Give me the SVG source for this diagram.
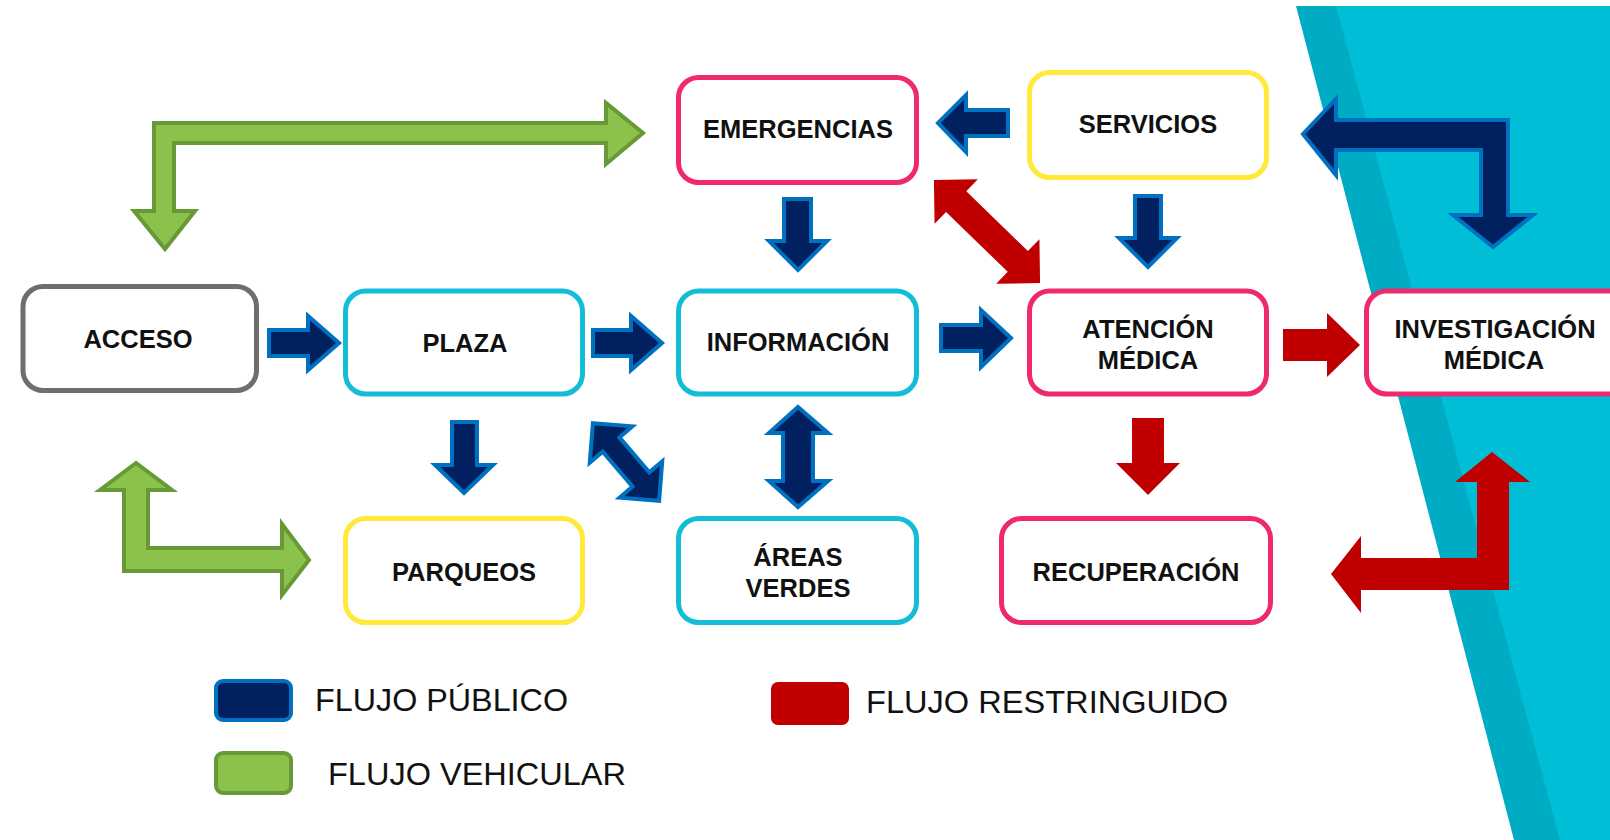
<svg xmlns="http://www.w3.org/2000/svg" width="1610" height="840" viewBox="0 0 1610 840">
<style>
.node rect{fill:#fff;stroke-width:5}
.pink{stroke:#EE2A6C}
.cyan{stroke:#14BDD7}
.yellow{stroke:#FFE93B}
.gray{stroke:#6E6E6E}
.lbl{font-family:"Liberation Sans",Arial,sans-serif;font-weight:bold;font-size:25.5px;fill:#111;text-anchor:middle}
.pub{fill:#002060;stroke:#0070C0;stroke-width:4;stroke-linejoin:miter}
.veh{fill:#8CC14B;stroke:#679A37;stroke-width:4;stroke-linejoin:miter}
.res{fill:#C00000}
.leg{font-family:"Liberation Sans",Arial,sans-serif;font-size:32px;fill:#111}
</style>
<rect width="1610" height="840" fill="#fff"/>
<g id="background">
<polygon points="1296,6 1610,6 1610,840 1514,840" fill="#00ABC4"/>
<polygon points="1336,6 1610,6 1610,840 1560,840" fill="#00BED6"/>
</g>
<g id="connectors">
<path class="veh" d="M643,133 L606,103 L606,123 L154,123 L154,211 L134,211 L165,249 L195,211 L174,211 L174,143 L606,143 L606,164 Z"/>
<path class="veh" d="M136,463 L100,490 L124,490 L124,571 L282,571 L282,595 L309,560 L282,524 L282,548 L148,548 L148,490 L172,490 Z"/>
<path class="pub" d="M269,330 L308,330 L308,316 L339,343 L308,370 L308,356 L269,356 Z"/>
<path class="pub" d="M593,330 L631,330 L631,316 L662,343 L631,370 L631,356 L593,356 Z"/>
<path class="pub" d="M941,325 L981,325 L981,310 L1011,338 L981,367 L981,351 L941,351 Z"/>
<path class="pub" d="M1008,110 L966,110 L966,95 L938,123 L966,152 L966,136 L1008,136 Z"/>
<path class="pub" d="M784,199 L811,199 L811,241 L827,241 L798,270 L769,241 L784,241 Z"/>
<path class="pub" d="M1135,196 L1161,196 L1161,238 L1177,238 L1148,267 L1119,238 L1135,238 Z"/>
<path class="pub" d="M452,422 L477,422 L477,465 L493,465 L464,493 L435,465 L452,465 Z"/>
<path class="pub" d="M798,407 L828,433 L813,433 L813,481 L828,481 L798,507 L769,481 L783,481 L783,433 L769,433 Z"/>
<path class="pub" d="M1303,134 L1336,99 L1336,120 L1508,120 L1508,215 L1533,215 L1493,247 L1453,215 L1481,215 L1481,150 L1336,150 L1336,175 Z"/>
<path class="pub" transform="translate(626,462) rotate(49.5)" d="M-51,0 L-23,-28 L-23,-11 L23,-11 L23,-28 L51,0 L23,28 L23,11 L-23,11 L-23,28 Z"/>
<path class="res" d="M1283,329 L1327,329 L1327,313 L1360,345 L1327,377 L1327,361 L1283,361 Z"/>
<path class="res" d="M1132,418 L1164,418 L1164,463 L1180,463 L1148,495 L1116,463 L1132,463 Z"/>
<path class="res" d="M1492,452 L1530,482 L1509,482 L1509,590 L1361,590 L1361,613 L1331,574 L1361,536 L1361,558 L1477,558 L1477,482 L1455,482 Z"/>
<path class="res" transform="translate(987,231.5) rotate(44.2)" d="M-74,0 L-43,-31 L-43,-14.5 L43,-14.5 L43,-31 L74,0 L43,31 L43,14.5 L-43,14.5 L-43,31 Z"/>
</g>
<g id="emergencias" class="node"><rect class="pink" x="678.5" y="77.5" width="238" height="105" rx="20"/><text class="lbl" x="798" y="138">EMERGENCIAS</text></g>
<g id="servicios" class="node"><rect class="yellow" x="1029.5" y="72.5" width="237" height="105" rx="20"/><text class="lbl" x="1148" y="133">SERVICIOS</text></g>
<g id="acceso" class="node"><rect class="gray" x="23" y="286.5" width="233.5" height="104" rx="20"/><text class="lbl" x="138" y="348">ACCESO</text></g>
<g id="plaza" class="node"><rect class="cyan" x="345.5" y="291" width="237" height="103" rx="20"/><text class="lbl" x="465" y="352">PLAZA</text></g>
<g id="informacion" class="node"><rect class="cyan" x="678.5" y="291" width="238" height="103" rx="20"/><text class="lbl" x="798" y="351">INFORMACIÓN</text></g>
<g id="atencion-medica" class="node"><rect class="pink" x="1029.5" y="291" width="237" height="103" rx="20"/><text class="lbl" x="1148" y="338">ATENCIÓN</text><text class="lbl" x="1148" y="369">MÉDICA</text></g>
<g id="investigacion-medica" class="node"><rect class="pink" x="1366.5" y="291" width="262" height="103" rx="20"/><text class="lbl" x="1495" y="338">INVESTIGACIÓN</text><text class="lbl" x="1494" y="369">MÉDICA</text></g>
<g id="parqueos" class="node"><rect class="yellow" x="345.5" y="518.5" width="237" height="104" rx="20"/><text class="lbl" x="464" y="581">PARQUEOS</text></g>
<g id="areas-verdes" class="node"><rect class="cyan" x="678.5" y="518.5" width="238" height="104" rx="20"/><text class="lbl" x="798" y="566">ÁREAS</text><text class="lbl" x="798" y="597">VERDES</text></g>
<g id="recuperacion" class="node"><rect class="pink" x="1001.5" y="518.5" width="269" height="104" rx="20"/><text class="lbl" x="1136" y="581">RECUPERACIÓN</text></g>
<g id="legend">
<rect class="pub" x="216" y="681" width="75" height="39" rx="7"/>
<text class="leg" x="315" y="711" textLength="253" lengthAdjust="spacingAndGlyphs">FLUJO PÚBLICO</text>
<rect class="veh" x="216" y="753" width="75" height="40" rx="7"/>
<text class="leg" x="328" y="785" textLength="298" lengthAdjust="spacingAndGlyphs">FLUJO VEHICULAR</text>
<rect class="res" x="771" y="682" width="78" height="43" rx="7"/>
<text class="leg" x="866" y="713" textLength="362" lengthAdjust="spacingAndGlyphs">FLUJO RESTRINGUIDO</text>
</g>
</svg>
